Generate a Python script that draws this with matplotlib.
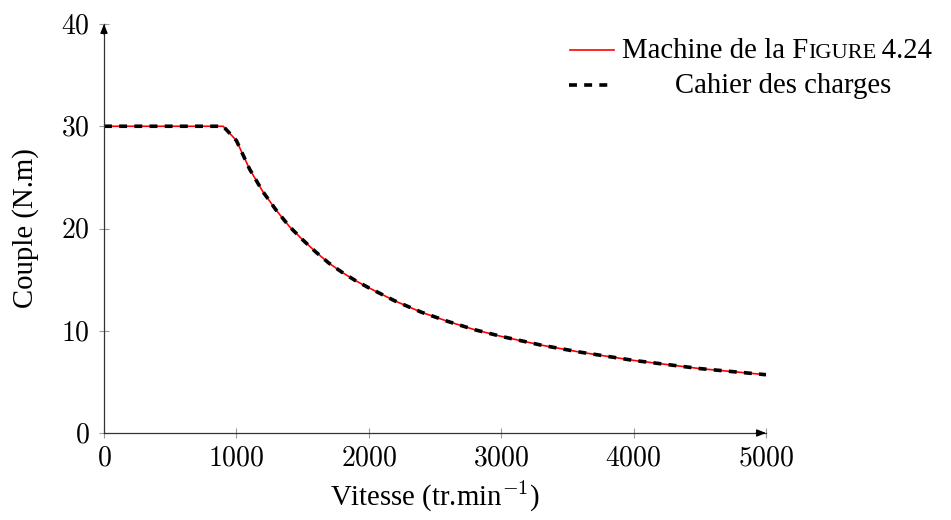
import matplotlib
matplotlib.use("Agg")
import matplotlib.pyplot as plt
from matplotlib.lines import Line2D
from matplotlib.text import Annotation
from matplotlib.ticker import FuncFormatter

plt.rcParams['font.family'] = ['Liberation Serif', 'DejaVu Serif']
plt.rcParams['mathtext.fontset'] = 'cm'

# Data (speed in tr/min, torque in N.m)
speed = [0, 100, 200, 300, 400, 500, 600, 700, 800, 900, 1000, 1100, 1200, 1300,
         1400, 1500, 1600, 1700, 1800, 1900, 2000, 2200, 2400, 2600, 2800, 3000,
         3300, 3600, 4000, 4500, 5000]
torque_machine = [30, 30, 30, 30, 30, 30, 30, 30, 30, 30, 28.6, 25.8, 23.6, 21.8,
                  20.2, 18.9, 17.7, 16.6, 15.7, 14.9, 14.2, 12.9, 11.8, 10.9, 10.1, 9.45,
                  8.6, 7.9, 7.1, 6.3, 5.7]
torque_cdc = [30, 30, 30, 30, 30, 30, 30, 30, 30, 30, 28.6, 25.8, 23.6, 21.8,
              20.2, 18.9, 17.7, 16.6, 15.7, 14.9, 14.2, 12.9, 11.8, 10.9, 10.1, 9.45,
              8.6, 7.9, 7.1, 6.3, 5.7]
xticks = [0, 1000, 2000, 3000, 4000, 5000]
yticks = [0, 10, 20, 30, 40]
xlabel = "Vitesse (tr.min$^{-1}$)"
ylabel = "Couple (N.m)"
leg1_a, leg1_b, leg1_c = "Machine de la F", "IGURE", "\u20094.24"
leg2 = "Cahier des charges"

FS = 20.7
FST = 20
W, H = 951, 520
fig = plt.figure(figsize=(W / 100, H / 100), dpi=100)
ax = fig.add_axes([104 / W, 1 - 433 / H, (766 - 104) / W, (433 - 24) / H])

ax.plot(speed, torque_machine, color='#ff0000', lw=1.2, solid_capstyle='butt')
ax.plot(speed, torque_cdc, color='black', lw=2.6, dashes=(2.2, 2.0))

ax.set_xlim(0, 5000)
ax.set_ylim(0, 40)
ax.set_xticks(xticks)
ax.set_yticks(yticks)
fmt = FuncFormatter(lambda v, p: f"${v:g}$")
ax.xaxis.set_major_formatter(fmt)
ax.yaxis.set_major_formatter(fmt)
ax.tick_params(direction='inout', length=7, width=0.8, color='#999999',
               labelsize=FST, pad=7)
ax.tick_params(axis='x', pad=6)
for s in ['top', 'right']:
    ax.spines[s].set_visible(False)
for s in ['left', 'bottom']:
    ax.spines[s].set_color('#333333')
    ax.spines[s].set_linewidth(0.9)

# arrow heads at axis ends
ax.annotate('', xy=(1.0, 0), xytext=(0.985, 0), xycoords='axes fraction',
            arrowprops=dict(arrowstyle='-|>,head_length=0.55,head_width=0.22',
                            color='black', lw=0.9, shrinkA=0, shrinkB=0), annotation_clip=False)
ax.annotate('', xy=(0, 1.0), xytext=(0, 0.975), xycoords='axes fraction',
            arrowprops=dict(arrowstyle='-|>,head_length=0.55,head_width=0.22',
                            color='black', lw=0.9, shrinkA=0, shrinkB=0), annotation_clip=False)

ax.set_xlabel(xlabel, fontsize=FS, labelpad=5)
ax.set_ylabel(ylabel, fontsize=FS, labelpad=16)

# custom legend (small caps for "Figure")
fig.add_artist(Line2D([570 / W, 614 / W], [470 / H, 470 / H], color='#ff0000', lw=1.2))
fig.add_artist(Line2D([569 / W, 610 / W], [435 / H, 435 / H], color='black', lw=2.6,
                      dashes=(2.2, 2.0)))
t1 = fig.text(622 / W, 462 / H, leg1_a, fontsize=FS, va='baseline', ha='left')
a2 = fig.add_artist(Annotation(leg1_b, xy=(1, 462), xycoords=(t1, 'figure pixels'),
                               fontsize=FS * 0.78, va='baseline', ha='left'))
a3 = fig.add_artist(Annotation(leg1_c, xy=(1, 462), xycoords=(a2, 'figure pixels'),
                               fontsize=FS, va='baseline', ha='left'))
fig.text(675 / W, 427 / H, leg2, fontsize=FS, va='baseline', ha='left')

fig.savefig('out.png', dpi=100)
